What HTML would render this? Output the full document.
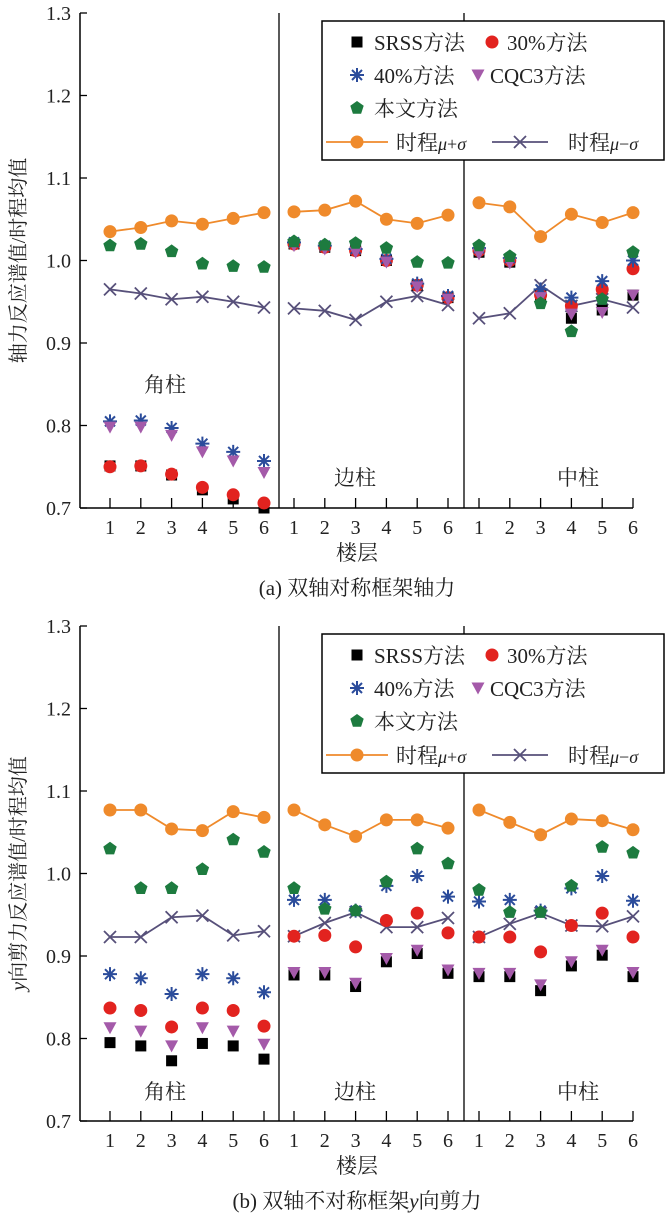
<!DOCTYPE html>
<html><head><meta charset="utf-8">
<style>
html,body{margin:0;padding:0;background:#fff;}
svg{display:block;font-family:"Liberation Serif","Noto Serif CJK SC","Noto Sans CJK SC",serif;}
</style></head>
<body>
<svg id="chart" width="669" height="1221" viewBox="0 0 669 1221" xmlns="http://www.w3.org/2000/svg"></svg>
<script>
const floors = [1,2,3,4,5,6];
const groups = ["角柱","边柱","中柱"];
const yTicks = [0.7,0.8,0.9,1.0,1.1,1.2,1.3];
const yTickLabels = ["0.7","0.8","0.9","1.0","1.1","1.2","1.3"];
// Chart (a) series: each array = [corner x6, edge x6, middle x6]
const aSRSS = [0.751,0.751,0.740,0.722,0.711,0.700, 1.020,1.016,1.012,1.000,0.970,0.955, 1.010,0.998,0.958,0.930,0.940,0.958];
const a30 = [0.750,0.751,0.741,0.725,0.716,0.706, 1.020,1.016,1.012,1.000,0.970,0.955, 1.012,1.000,0.958,0.945,0.965,0.990];
const a40 = [0.805,0.806,0.797,0.778,0.768,0.757, 1.022,1.018,1.014,1.002,0.972,0.957, 1.015,1.003,0.965,0.955,0.975,1.000];
const aCQC = [0.798,0.798,0.788,0.768,0.757,0.743, 1.018,1.014,1.010,0.998,0.968,0.953, 1.008,0.997,0.955,0.935,0.937,0.958];
const aPaper = [1.018,1.020,1.011,0.996,0.993,0.992, 1.023,1.019,1.021,1.015,0.998,0.997, 1.018,1.005,0.948,0.914,0.953,1.010];
const aUp = [1.035,1.040,1.048,1.044,1.051,1.058, 1.059,1.061,1.072,1.050,1.045,1.055, 1.070,1.065,1.029,1.056,1.046,1.058];
const aDown = [0.965,0.960,0.953,0.956,0.950,0.943, 0.942,0.939,0.928,0.950,0.957,0.946, 0.930,0.936,0.970,0.945,0.953,0.943];
// Chart (b)
const bSRSS = [0.795,0.791,0.773,0.794,0.791,0.775, 0.877,0.877,0.863,0.893,0.903,0.879, 0.875,0.875,0.858,0.888,0.901,0.875];
const b30 = [0.837,0.834,0.814,0.837,0.834,0.815, 0.924,0.925,0.911,0.943,0.952,0.928, 0.923,0.923,0.905,0.937,0.952,0.923];
const b40 = [0.878,0.873,0.854,0.878,0.873,0.856, 0.968,0.968,0.955,0.985,0.997,0.972, 0.966,0.968,0.955,0.982,0.997,0.967];
const bCQC = [0.813,0.809,0.791,0.813,0.809,0.793, 0.880,0.880,0.867,0.897,0.907,0.883, 0.879,0.879,0.865,0.893,0.907,0.880];
const bPaper = [1.030,0.982,0.982,1.005,1.041,1.026, 0.982,0.957,0.955,0.990,1.030,1.012, 0.980,0.953,0.953,0.985,1.032,1.025];
const bUp = [1.077,1.077,1.054,1.052,1.075,1.068, 1.077,1.059,1.045,1.065,1.065,1.055, 1.077,1.062,1.047,1.066,1.064,1.053];
const bDown = [0.923,0.923,0.947,0.949,0.925,0.930, 0.924,0.940,0.953,0.935,0.935,0.946, 0.923,0.939,0.952,0.937,0.936,0.948];

const NS = "http://www.w3.org/2000/svg";
const svg = document.getElementById("chart");
const C = {orange:"#ef8a2b", purple:"#57507a", green:"#1d7b3f", red:"#e2231f", blue:"#2b4c9b", mag:"#a45aa9", black:"#000"};
function mk(tag, attrs, parent){const e=document.createElementNS(NS,tag);for(const k in attrs)e.setAttribute(k,attrs[k]);(parent||svg).appendChild(e);return e;}
function txt(s, attrs, parent){const e=mk("text",attrs,parent);e.textContent=s;return e;}

const groupStarts=[110,294,479], step=30.8;
function xPos(i){return groupStarts[Math.floor(i/6)] + (i%6)*step;}

function marker(type,x,y,g){
  let e;
  if(type==="square"){e=mk("rect",{x:x-5.5,y:y-5.5,width:11,height:11,fill:C.black},g);}
  else if(type==="circle"){e=mk("circle",{cx:x,cy:y,r:6.5,fill:C.red},g);}
  else if(type==="star"){e=mk("path",{d:`M${x-7} ${y}H${x+7}M${x} ${y-7}V${y+7}M${x-5} ${y-5}L${x+5} ${y+5}M${x-5} ${y+5}L${x+5} ${y-5}`,stroke:C.blue,"stroke-width":2,fill:"none"},g);}
  else if(type==="tri"){e=mk("path",{d:`M${x-6.5} ${y-5.5}H${x+6.5}L${x} ${y+6.5}Z`,fill:C.mag},g);}
  else if(type==="pent"){let p=[];for(let k=0;k<5;k++){const a=-Math.PI/2+k*2*Math.PI/5;p.push((x+7*Math.cos(a)).toFixed(1)+","+(y+7*Math.sin(a)).toFixed(1));}e=mk("polygon",{points:p.join(" "),fill:C.green},g);}
  else if(type==="ocircle"){e=mk("circle",{cx:x,cy:y,r:6.5,fill:C.orange},g);}
  else if(type==="x"){e=mk("path",{d:`M${x-6} ${y-6}L${x+6} ${y+6}M${x-6} ${y+6}L${x+6} ${y-6}`,stroke:C.purple,"stroke-width":1.8,fill:"none"},g);}
  return e;
}

function drawChart(cfg){
  const top=cfg.top, bot=cfg.bot, x0=80, x1=632;
  const yPos=v=>bot-(v-0.7)/0.6*(bot-top);
  const g=mk("g",{});
  
  
  const ya=mk("line",{x1:x0,y1:top,x2:x0,y2:bot,stroke:"#000","stroke-width":1.5},g);
  
  
  const xa=mk("line",{x1:x0,y1:bot,x2:x1+1,y2:bot,stroke:"#000","stroke-width":1.5},g);
  
  
  [279,464].forEach((dx,k)=>{const d=mk("line",{x1:dx,y1:top,x2:dx,y2:bot,stroke:"#000","stroke-width":1.3},g);
    
    });
  yTicks.forEach((v,k)=>{
    const t=mk("line",{x1:x0,y1:yPos(v),x2:x0+7,y2:yPos(v),stroke:"#000","stroke-width":1.3},g);
    
    
    const l=txt(yTickLabels[k],{x:71,y:yPos(v)+7,"text-anchor":"end","font-size":20,fill:"#222"},g);
    
    
  });
  for(let i=0;i<18;i++){
    const x=xPos(i);
    const t=mk("line",{x1:x,y1:bot,x2:x,y2:bot-10,stroke:"#000","stroke-width":1.3},g);
    
    
    const l=txt(String(floors[i%6]),{x:x,y:bot+26,"text-anchor":"middle","font-size":20,fill:"#222"},g);
    
    
  }
  const xt=txt("楼层",{x:357,y:bot+52,"text-anchor":"middle","font-size":21,fill:"#222"},g);
  
  
  const cap=mk("text",{x:357,y:bot+87,"text-anchor":"middle","font-size":21,fill:"#222"},g);
  cap.innerHTML=cfg.caption;
  
  
  const yt=mk("text",{transform:`translate(25,${(top+bot)/2}) rotate(-90)`,"text-anchor":"middle","font-size":20,fill:"#222"},g);
  yt.innerHTML=cfg.ytitle;
  
  
  cfg.groupLabels.forEach((p,k)=>{const l=txt(groups[k],{x:p[0],y:p[1],"text-anchor":"middle","font-size":21,fill:"#222"},g);
    
    });
  [[cfg.up,C.orange,"ocircle","series-mu-plus-sigma"],[cfg.down,C.purple,"x","series-mu-minus-sigma"]].forEach(s=>{
    const sg=mk("g",{},g);
    
    
    for(let grp=0;grp<3;grp++){
      const pts=[];for(let j=0;j<6;j++){const i=grp*6+j;pts.push(xPos(i)+","+yPos(s[0][i]));}
      mk("polyline",{points:pts.join(" "),fill:"none",stroke:s[1],"stroke-width":1.8},sg);
    }
    for(let i=0;i<18;i++){const m=marker(s[2],xPos(i),yPos(s[0][i]),sg);
      
      }
  });
  [[cfg.srss,"square","series-srss"],[cfg.p30,"circle","series-30pct"],[cfg.p40,"star","series-40pct"],[cfg.cqc,"tri","series-cqc3"],[cfg.paper,"pent","series-paper-method"]].forEach(s=>{
    const sg=mk("g",{},g);
    
    
    for(let i=0;i<18;i++){const m=marker(s[1],xPos(i),yPos(s[0][i]),sg);
      
      }
  });
  const L=cfg.legTop;
  const lg=mk("g",{},g);
  
  
  mk("rect",{x:322,y:L,width:342,height:139,fill:"#fff",stroke:"#000","stroke-width":1.5},lg);
  const fs=21;
  const items=[["square",357,L+21,"SRSS方法",374],["circle",492,L+21,"30%方法",507],["star",357,L+54,"40%方法",374],["tri",478,L+54,"CQC3方法",490],["pent",357,L+87,"本文方法",374]];
  items.forEach(it=>{const m=marker(it[0],it[1],it[2],lg);
    
    
    const t=txt(it[3],{x:it[4],y:it[2]+8,"font-size":fs,fill:"#222"},lg);
    
    });
  const ly=L+121;
  mk("line",{x1:326,y1:ly,x2:388,y2:ly,stroke:C.orange,"stroke-width":1.8},lg);
  marker("ocircle",357,ly,lg);
  const t1=mk("text",{x:396,y:ly+8,"font-size":fs,fill:"#222"},lg);
  t1.innerHTML='时程<tspan font-style="italic" font-size="18">μ</tspan><tspan font-size="18">+</tspan><tspan font-style="italic" font-size="18">σ</tspan>';
  
  
  mk("line",{x1:492,y1:ly,x2:548,y2:ly,stroke:C.purple,"stroke-width":1.8},lg);
  marker("x",520,ly,lg);
  const t2=mk("text",{x:568,y:ly+8,"font-size":fs,fill:"#222"},lg);
  t2.innerHTML='时程<tspan font-style="italic" font-size="18">μ</tspan><tspan font-size="18">−</tspan><tspan font-style="italic" font-size="18">σ</tspan>';
  
  
}

drawChart({name:"chart-a",top:13,bot:508,legTop:21,caption:"(a) 双轴对称框架轴力",
  ytitle:"轴力反应谱值/时程均值",groupLabels:[[165,392],[355,485],[578,485]],
  srss:aSRSS,p30:a30,p40:a40,cqc:aCQC,paper:aPaper,up:aUp,down:aDown});
drawChart({name:"chart-b",top:626,bot:1121,legTop:634,caption:'(b) 双轴不对称框架<tspan font-style="italic">y</tspan>向剪力',
  ytitle:'<tspan font-style="italic">y</tspan>向剪力反应谱值/时程均值',groupLabels:[[165,1099],[355,1099],[578,1099]],
  srss:bSRSS,p30:b30,p40:b40,cqc:bCQC,paper:bPaper,up:bUp,down:bDown});
</script>
</body></html>
